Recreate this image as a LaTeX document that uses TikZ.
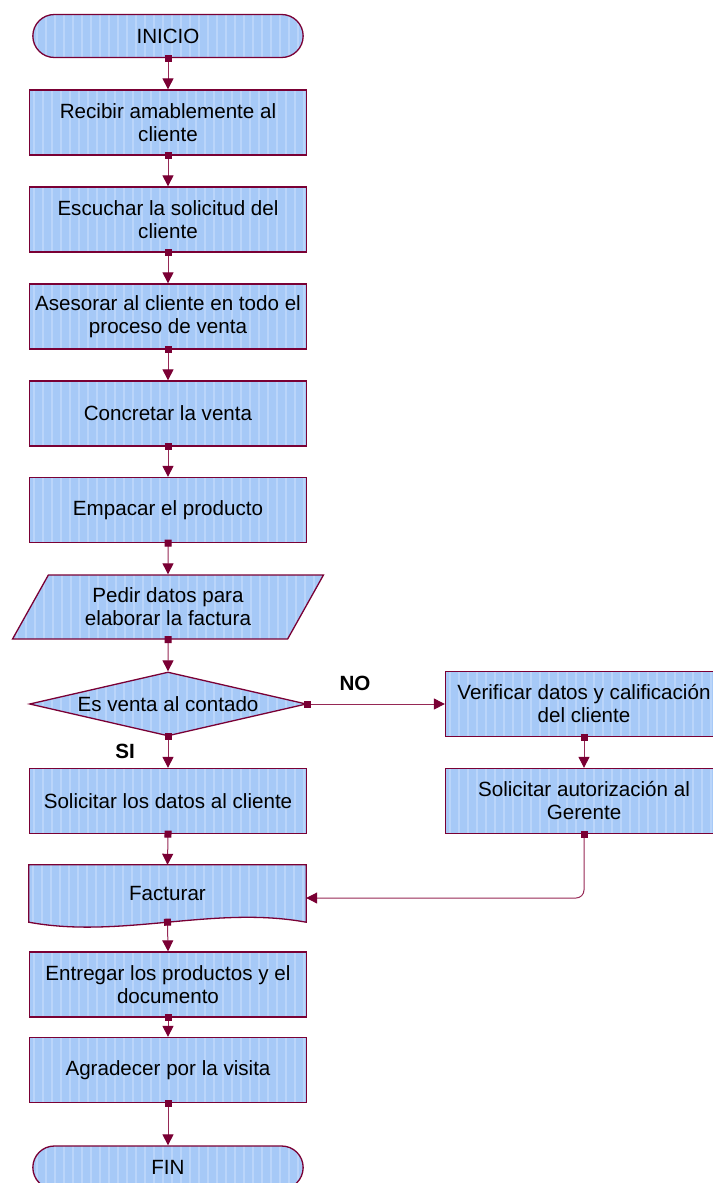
\documentclass[tikz,border=0pt]{standalone}
\usepackage{fontspec}
\setmainfont{Liberation Sans}
\usetikzlibrary{shapes.geometric,shapes.misc,arrows.meta,backgrounds}
\definecolor{boxblue}{RGB}{166,201,247}
\definecolor{stripeblue}{RGB}{186,213,250}
\definecolor{wine}{RGB}{122,0,52}
\definecolor{wireline}{RGB}{150,40,85}
\begin{document}
\begin{tikzpicture}[x=1pt, y=-1pt,
    every node/.style={font=\fontsize{20.6}{23}\selectfont, align=center},
    striped/.style={fill=boxblue, draw=wine, line width=1.3pt,
      path picture={\foreach \k in {0,...,36}
        \draw[stripeblue, line width=2pt] ([xshift=\k*9pt+4pt]path picture bounding box.north west) -- ([xshift=\k*9pt+4pt]path picture bounding box.south west);}},
    term/.style={striped, rounded rectangle, minimum width=277pt, minimum height=43pt},
    proc/.style={striped, rectangle, minimum width=277pt, minimum height=65pt, inner sep=2pt},
    datos/.style={striped, trapezium, trapezium left angle=60, trapezium right angle=120,
      trapezium stretches=true, minimum width=312pt, minimum height=64pt},
    decide/.style={striped, diamond, aspect=4.33, inner sep=0pt, minimum width=277pt, minimum height=64pt},
    flow/.style={wireline, line width=1pt, shorten <=-3.5pt,
      {Square[length=7pt,width=7pt,color=wine]}-{Triangle[length=11pt,width=11pt,color=wine]}},
    answer/.style={font=\bfseries\fontsize{20.6}{23}\selectfont}]
\useasboundingbox (0,0) rectangle (712,1183);

\node[term] (inicio) at (168,36) {INICIO};
\node[proc] (recibir) at (168,122.5) {Recibir amablemente al\\cliente};
\node[proc] (escuchar) at (168,219.5) {Escuchar la solicitud del\\cliente};
\node[proc] (asesorar) at (168,316.5) {Asesorar al cliente en todo el\\proceso de venta};
\node[proc] (concretar) at (168,413.5) {Concretar la venta};
\node[proc] (empacar) at (168,510) {Empacar el producto};
\node[datos] (pedir) at (168,607) {Pedir datos para\\elaborar la factura};
\node[decide] (contado) at (168,704) {Es venta al contado};
\node[proc] (solicitar) at (168,801) {Solicitar los datos al cliente};
\node[proc] (verificar) at (584,704) {Verificar datos y calificación\\del cliente};
\node[proc] (gerente) at (584,801) {Solicitar autorización al\\Gerente};
\node[inner sep=0pt, minimum width=277pt, minimum height=57pt] (facturar) at (167.5,893.5) {Facturar};
\node[proc] (entregar) at (168,984.5) {Entregar los productos y el\\documento};
\node[proc] (agradecer) at (168,1070) {Agradecer por la visita};
\node[term] (fin) at (168,1167.5) {FIN};

% documento
\begin{scope}[on background layer]
\path[striped] (facturar.north west) -- (facturar.north east) -- (facturar.south east)
  .. controls +(-92,-17) and +(92,17) .. (facturar.south west) -- cycle;
\end{scope}

\node[answer] (no) at (355,683) {NO};
\node[answer] (si) at (125,751) {SI};

\draw[flow] (inicio.south) -- (recibir.north);
\draw[flow] (recibir.south) -- (escuchar.north);
\draw[flow] (escuchar.south) -- (asesorar.north);
\draw[flow] (asesorar.south) -- (concretar.north);
\draw[flow] (concretar.south) -- (empacar.north);
\draw[flow] (empacar.south) -- (pedir.north);
\draw[flow] (pedir.south) -- (contado.north);
\draw[flow] (contado.south) -- (solicitar.north);
\draw[flow] (contado.east) -- (verificar.west);
\draw[flow] (verificar.south) -- (gerente.north);
\draw[flow, rounded corners=8pt] (gerente.south) |- ([yshift=-4.5pt]facturar.east);
\draw[flow] (solicitar.south) -- (facturar.north);
\draw[flow] (facturar.south) -- (entregar.north);
\draw[flow] (entregar.south) -- (agradecer.north);
\draw[flow] (agradecer.south) -- (fin.north);
\end{tikzpicture}
\end{document}
